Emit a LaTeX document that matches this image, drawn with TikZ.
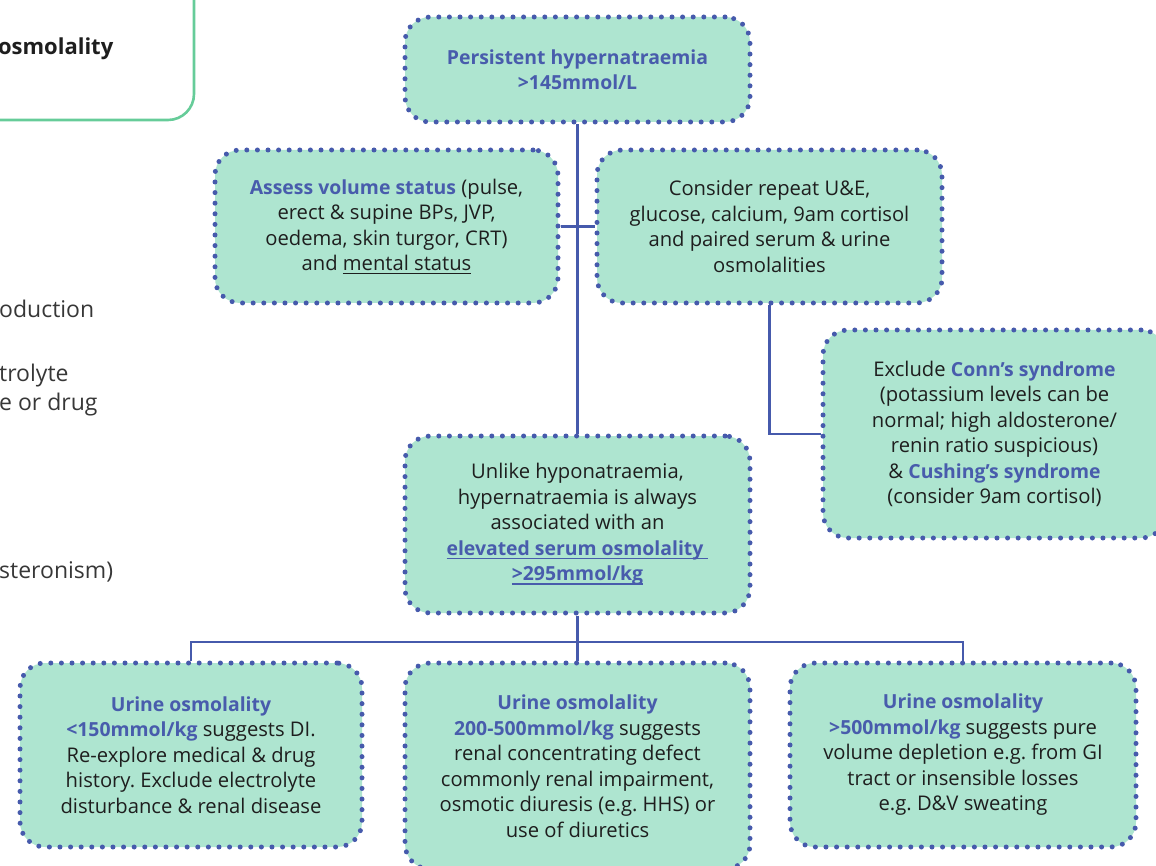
\documentclass[tikz,border=0pt]{standalone}
\usepackage{fontspec}
\setmainfont{Open Sans}
\usetikzlibrary{backgrounds}
\frenchspacing
\definecolor{boxfill}{RGB}{174,229,208}
\definecolor{dotblue}{RGB}{70,90,172}
\definecolor{txtblue}{RGB}{72,92,172}
\definecolor{txtdark}{RGB}{30,30,30}
\definecolor{fragdark}{RGB}{55,55,55}
\definecolor{framegreen}{RGB}{102,204,153}
\newcommand{\hl}[1]{{\fontsize{19.4}{25.5}\selectfont\bfseries\color{txtblue}#1}}
\newcommand{\myul}[1]{\setbox0\hbox{#1}\mbox{\rlap{\rule[-3.8pt]{\wd0}{1.3pt}}\box0}}
\tikzset{
  dotbox/.style={draw=dotblue, fill=boxfill, line width=5pt, line cap=round,
    dash pattern=on 0pt off 10.6pt, rounded corners=25pt, align=center,
    text=txtdark, inner sep=0pt,
    font=\fontsize{20.2}{25.5}\selectfont},
  conn/.style={draw=dotblue, line width=2.4pt},
  frag/.style={anchor=west, inner sep=0pt, text=fragdark,
    font=\fontsize{23}{28}\selectfont}
}
\begin{document}
\begin{tikzpicture}[x=1pt,y=-1pt]
\useasboundingbox (0,0) rectangle (1156,866);
\clip (0,0) rectangle (1156,866);
% partial frame at top-left
\draw[framegreen, line width=2.6pt, rounded corners=26pt] (-40,-40) rectangle (194,120);
\node[anchor=east, inner sep=0pt, text=txtdark, font=\fontsize{22}{25}\selectfont\bfseries] (osm) at (113.5,49) {osmolality};
% fragments at left
\node[frag] (f1) at (-1,309) {oduction};
\node[frag] (f2) at (-1,376) {trolyte};
\node[frag] (f3) at (-1,405) {e or drug};
\node[frag] (f4) at (-1,572) {steronism)};
% boxes
\node[dotbox, minimum width=345pt, minimum height=105pt] (top) at (577.5,69.5)
  {\hl{Persistent hypernatraemia}\\ \hl{>145mmol/L}};
\node[dotbox, minimum width=343pt, minimum height=153pt] (assess) at (386.5,226.5)
  {\hl{Assess volume status} (pulse,\\ erect \& supine BPs, JVP,\\ oedema, skin turgor, CRT)\\ and \myul{mental status}};
\node[dotbox, minimum width=345pt, minimum height=153pt] (repeat) at (769.5,226.5)
  {Consider repeat U\&E,\\ glucose, calcium, 9am cortisol\\ and paired serum \& urine\\ osmolalities};
\node[dotbox, minimum width=343pt, minimum height=208pt] (conn) at (994.5,434)
  {Exclude \hl{Conn’s syndrome}\\ (potassium levels can be\\ normal; high aldosterone/\\ renin ratio suspicious)\\ \& \hl{Cushing’s syndrome}\\ (consider 9am cortisol)};
\node[dotbox, minimum width=345pt, minimum height=177pt] (mid) at (577.5,524.5)
  {Unlike hyponatraemia,\\ hypernatraemia is always\\ associated with an\\
   \hl{\myul{elevated serum osmolality\ }}\\ \hl{\myul{>295mmol/kg}}};
\node[dotbox, minimum width=342pt, minimum height=184pt] (b1) at (191,755)
  {\hl{Urine osmolality}\\ \hl{<150mmol/kg} suggests DI.\\ Re-explore medical \& drug\\ history. Exclude electrolyte\\ disturbance \& renal disease};
\node[dotbox, minimum width=345pt, minimum height=206pt] (b2) at (577.5,766)
  {\hl{Urine osmolality}\\ \hl{200-500mmol/kg} suggests\\ renal concentrating defect\\ commonly renal impairment,\\ osmotic diuresis (e.g. HHS) or\\ use of diuretics};
\node[dotbox, minimum width=346pt, minimum height=184pt] (b3) at (963,755)
  {\hl{Urine osmolality}\\ \hl{>500mmol/kg} suggests pure\\ volume depletion e.g. from GI\\ tract or insensible losses\\ e.g. D\&V sweating};
% connectors
\begin{scope}[on background layer]
\coordinate (bus) at (577.5,642);
\draw[conn] (top.south) -- (mid.north);
\draw[conn] (assess.east) -- (repeat.west);
\draw[conn] (repeat.south) |- (conn.west);
\draw[conn] (mid.south) -- (b2.north);
\draw[conn] (b1.north) |- (bus) -| (b3.north);
\end{scope}
\end{tikzpicture}
\end{document}
